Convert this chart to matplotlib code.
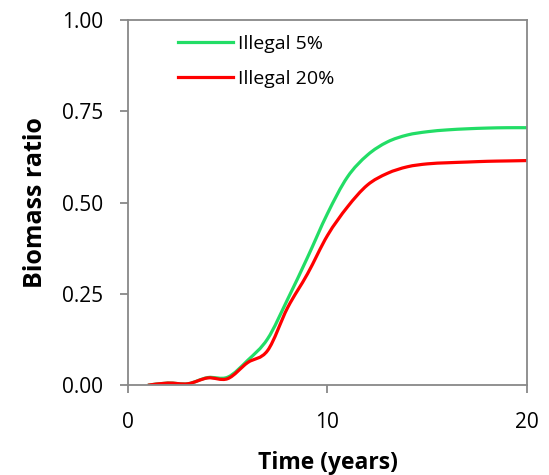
import numpy as np
import matplotlib
matplotlib.use("Agg")
import matplotlib.pyplot as plt
from matplotlib.path import Path
from matplotlib.patches import PathPatch
from matplotlib.lines import Line2D

years = [1, 2, 3, 4, 5, 6, 7, 8, 9, 10, 11, 12, 13, 14, 15, 16, 17, 18, 19, 20]
illegal_5 = [0.0, 0.006, 0.004, 0.021, 0.022, 0.068, 0.127, 0.235, 0.350, 0.470,
             0.570, 0.630, 0.666, 0.685, 0.694, 0.699, 0.702, 0.704, 0.705, 0.705]
illegal_20 = [0.0, 0.006, 0.004, 0.020, 0.018, 0.062, 0.095, 0.212, 0.305, 0.410,
              0.488, 0.548, 0.580, 0.598, 0.606, 0.609, 0.611, 0.613, 0.614, 0.615]
labels = ["Illegal 5%", "Illegal 20%"]
colors = ["#22dd66", "#ff0000"]

plt.rcParams['font.family'] = ['Open Sans', 'DejaVu Sans']

fig = plt.figure(figsize=(5.49, 4.75), dpi=100)
ax = fig.add_axes([0.233, 0.189, 0.727, 0.769])


def smooth_path(xs, ys):
    # Excel-like smoothed line: cubic Bezier segments through the data points
    x = np.asarray(xs, float)
    y = np.asarray(ys, float)
    n = len(x)
    verts = [(x[0], y[0])]
    codes = [Path.MOVETO]
    for i in range(n - 1):
        p0 = np.array([x[max(i - 1, 0)], y[max(i - 1, 0)]])
        p1 = np.array([x[i], y[i]])
        p2 = np.array([x[i + 1], y[i + 1]])
        p3 = np.array([x[min(i + 2, n - 1)], y[min(i + 2, n - 1)]])
        c1 = p1 + (p2 - p0) / 6.0
        c2 = p2 - (p3 - p1) / 6.0
        verts += [tuple(c1), tuple(c2), tuple(p2)]
        codes += [Path.CURVE4] * 3
    return Path(verts, codes)


handles = []
for vals, lab, col in zip([illegal_5, illegal_20], labels, colors):
    patch = PathPatch(smooth_path(years, vals), facecolor='none', edgecolor=col,
                      linewidth=2.3, capstyle='butt', joinstyle='round')
    ax.add_patch(patch)
    handles.append(Line2D([], [], color=col, linewidth=2.3, label=lab))

ax.set_xlim(0, 20)
ax.set_ylim(0, 1.0)
ax.set_xticks([0, 10, 20])
ax.set_yticks([0, 0.25, 0.5, 0.75, 1.0])
ax.set_yticklabels(["0.00", "0.25", "0.50", "0.75", "1.00"])

for s in ax.spines.values():
    s.set_color("#888888")
    s.set_linewidth(1.3)
ax.tick_params(axis='both', direction='out', length=6, width=1.3, color="#888888",
               labelsize=15, labelcolor='black')
ax.tick_params(axis='x', pad=13)
ax.tick_params(axis='y', pad=12)

ax.set_xlabel("Time (years)", fontsize=16.5, fontweight='bold', labelpad=13)
ax.set_ylabel("Biomass ratio", fontsize=18, fontweight='bold', labelpad=10)

ax.legend(handles=handles, loc='upper left', bbox_to_anchor=(0.125, 0.958), frameon=False,
          borderaxespad=0, borderpad=0,
          fontsize=14, handlelength=2.83, handletextpad=0.26, labelspacing=0.86)

fig.savefig("out.png", dpi=100)
